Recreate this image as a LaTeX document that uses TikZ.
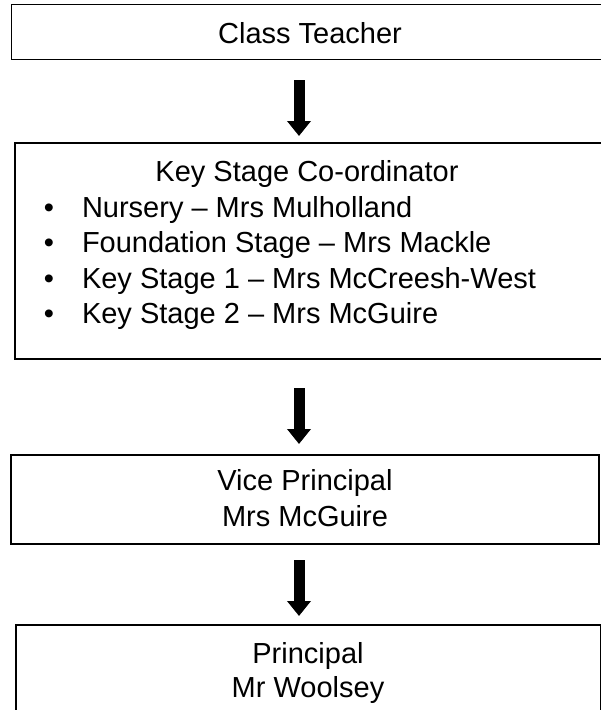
\documentclass[tikz,border=0pt]{standalone}
\usepackage{fontspec}
\setmainfont{Liberation Sans}
\usetikzlibrary{arrows.meta}

\begin{document}
\begin{tikzpicture}[x=1pt,y=-1pt,
    every node/.style={font=\fontsize{29}{35}\selectfont,inner sep=0pt,outer sep=0pt},
    box/.style={draw,line width=1.5pt,anchor=north west},
    down/.style={line width=11pt,-{Triangle[length=15pt,width=23pt]}}]
  \useasboundingbox (0,0) rectangle (601,710);
  % the four boxes
  \node[box,minimum width=593pt,minimum height=55pt] (teacher) at (11.5,4.5) {};
  \node[box,minimum width=590pt,minimum height=216pt] (ksc) at (15,143) {};
  \node[box,minimum width=588pt,minimum height=89pt] (vp) at (11,455) {};
  \node[box,minimum width=585pt,minimum height=100pt] (principal) at (16,625) {};
  % texts
  \node[anchor=base] (teachertxt) at (310,43) {Class Teacher};
  \node[anchor=base] (ksctitle) at (307,181.5) {Key Stage Co-ordinator};
  \foreach \who [count=\i] in {Nursery – Mrs Mulholland,
      Foundation Stage – Mrs Mackle,
      Key Stage 1 – Mrs McCreesh-West,
      Key Stage 2 – Mrs McGuire}
  {
    \node[anchor=base] (dot\i) at (49,{181.5+35.6*\i}) {\textbullet};
    \node[anchor=base west] (item\i) at (82,{181.5+35.6*\i}) {\who};
  }
  \node[anchor=base] (vptitle) at (305,490) {Vice Principal};
  \node[anchor=base] (vpname) at (305,526) {Mrs McGuire};
  \node[anchor=base] (prtitle) at (308,663) {Principal};
  \node[anchor=base] (prname) at (308,697) {Mr Woolsey};
  % arrows
  \coordinate (a1) at (299,80);  \coordinate (b1) at (299,136);
  \coordinate (a2) at (299,388); \coordinate (b2) at (299,444);
  \coordinate (a3) at (299,560); \coordinate (b3) at (299,616);
  \draw[down] (a1) -- (b1);
  \draw[down] (a2) -- (b2);
  \draw[down] (a3) -- (b3);
\end{tikzpicture}
\end{document}
